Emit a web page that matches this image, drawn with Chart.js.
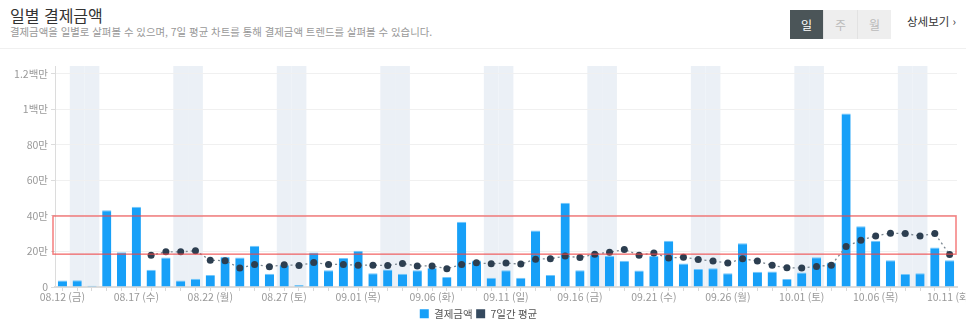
<!DOCTYPE html>
<html lang="ko">
<head>
<meta charset="utf-8">
<script src="https://cdn.jsdelivr.net/npm/chart.js@4.4.0/dist/chart.umd.min.js"></script>
<style>
  body { margin: 0; width: 966px; height: 329px; background: #fff; font-family: 'Noto Sans CJK KR', 'Noto Sans', sans-serif; position: relative; overflow: hidden; }
  .title { position: absolute; left: 10px; top: 3px; font-size: 16px; color: #333; }
  .sub { position: absolute; left: 10px; top: 24px; font-size: 10.4px; color: #999; }
  .tabs { position: absolute; left: 790px; top: 10px; display: flex; }
  .tabs div { width: 33px; height: 29px; line-height: 29px; text-align: center; font-size: 12px; background: #eee; color: #bbb; border-left: 1px solid #e2e2e2; }
  .tabs div.on { background: #4b5558; color: #fff; border-left: none; }
  .more { position: absolute; left: 907px; top: 13px; font-size: 11.5px; color: #333; }
  .sep { position: absolute; left: 0; top: 48px; width: 966px; height: 1px; background: #f0f0f0; }
  #wrap { position: absolute; left: 0; top: 50px; width: 966px; height: 279px; }
</style>
</head>
<body>
<div class="title">일별 결제금액</div>
<div class="sub">결제금액을 일별로 살펴볼 수 있으며, 7일 평균 차트를 통해 결제금액 트렌드를 살펴볼 수 있습니다.</div>
<div class="tabs"><div class="on">일</div><div>주</div><div>월</div></div>
<div class="more">상세보기 ›</div>
<div class="sep"></div>
<div id="wrap"><canvas id="payChart"></canvas></div>
<script>
const days = [
  "08.12 (금)", "08.13 (토)", "08.14 (일)", "08.15 (월)", "08.16 (화)", "08.17 (수)", "08.18 (목)",
  "08.19 (금)", "08.20 (토)", "08.21 (일)", "08.22 (월)", "08.23 (화)", "08.24 (수)", "08.25 (목)",
  "08.26 (금)", "08.27 (토)", "08.28 (일)", "08.29 (월)", "08.30 (화)", "08.31 (수)", "09.01 (목)",
  "09.02 (금)", "09.03 (토)", "09.04 (일)", "09.05 (월)", "09.06 (화)", "09.07 (수)", "09.08 (목)",
  "09.09 (금)", "09.10 (토)", "09.11 (일)", "09.12 (월)", "09.13 (화)", "09.14 (수)", "09.15 (목)",
  "09.16 (금)", "09.17 (토)", "09.18 (일)", "09.19 (월)", "09.20 (화)", "09.21 (수)", "09.22 (목)",
  "09.23 (금)", "09.24 (토)", "09.25 (일)", "09.26 (월)", "09.27 (화)", "09.28 (수)", "09.29 (목)",
  "09.30 (금)", "10.01 (토)", "10.02 (일)", "10.03 (월)", "10.04 (화)", "10.05 (수)", "10.06 (목)",
  "10.07 (금)", "10.08 (토)", "10.09 (일)", "10.10 (월)", "10.11 (화)"
];

const amounts = [
  37000, 38000, 7000, 432000, 196000, 452000, 97000,
  166000, 36000, 47000, 67000, 170000, 166000, 232000,
  75000, 125000, 11000, 194000, 95000, 163000, 204000,
  78000, 99000, 75000, 95000, 107000, 56000, 368000,
  149000, 52000, 95000, 52000, 318000, 67000, 475000,
  95000, 183000, 174000, 148000, 93000, 174000, 260000,
  133000, 101000, 105000, 78000, 247000, 86000, 88000,
  45000, 82000, 168000, 138000, 977000, 342000, 260000,
  151000, 73000, 77000, 223000, 151000
];

const avg7 = [
  null, null, null, null, null, null, 179000,
  198000, 198000, 204000, 151000, 148000, 107000, 127000,
  114000, 125000, 121000, 138000, 127000, 127000, 123000,
  123000, 121000, 133000, 118000, 119000, 103000, 127000,
  136000, 131000, 135000, 129000, 157000, 159000, 174000,
  166000, 185000, 196000, 211000, 179000, 192000, 163000,
  168000, 155000, 146000, 135000, 159000, 146000, 122000,
  108000, 107000, 116000, 123000, 228000, 264000, 288000,
  303000, 301000, 288000, 301000, 183000
];

const yTicks = [0, 200000, 400000, 600000, 800000, 1000000, 1200000];
const highlightRange = [185000, 400000];

const font = "'Noto Sans CJK KR', 'Noto Sans', sans-serif";

function fmtWon(v) {
  if (v === 0) return "0";
  if (v >= 1000000) return (v / 1000000) + "백만";
  return (v / 10000) + "만";
}

// weekend shading behind everything
const weekendBands = {
  id: "weekendBands",
  beforeDraw(chart) {
    const { ctx, chartArea, scales: { x } } = chart;
    const w = x.getPixelForValue(1) - x.getPixelForValue(0);
    ctx.save();
    ctx.fillStyle = "#ebf0f6";
    days.forEach((d, i) => {
      if (d.includes("(토)") || d.includes("(일)")) {
        const cx = x.getPixelForValue(i);
        ctx.fillRect(cx - w / 2, chartArea.top, w, chartArea.bottom - chartArea.top);
      }
    });
    ctx.restore();
  }
};

// red highlight box over the 7-day band
const highlightBox = {
  id: "highlightBox",
  afterDatasetsDraw(chart) {
    const { ctx, chartArea, scales: { y } } = chart;
    const top = y.getPixelForValue(highlightRange[1]);
    const bottom = y.getPixelForValue(highlightRange[0]);
    ctx.save();
    ctx.strokeStyle = "rgba(240, 70, 70, 0.7)";
    ctx.lineWidth = 1.5;
    ctx.strokeRect(chartArea.left - 2, top, chartArea.right - chartArea.left + 1, bottom - top);
    ctx.restore();
  }
};

const ctx = document.getElementById("payChart").getContext("2d");
new Chart(ctx, {
  type: "bar",
  data: {
    labels: days,
    datasets: [
      {
        label: "결제금액",
        data: amounts,
        backgroundColor: "#17a0f8",
        borderColor: "#74c7fb",
        borderWidth: { top: 1, right: 0, bottom: 0, left: 0 },
        borderSkipped: "bottom",
        barPercentage: 0.62,
        categoryPercentage: 1,
        order: 2
      },
      {
        type: "line",
        label: "7일간 평균",
        data: avg7,
        borderColor: "#7b8791",
        borderWidth: 1.3,
        borderDash: [2, 3],
        pointRadius: 3.5,
        pointBackgroundColor: "#2c3e50",
        pointBorderColor: "#2c3e50",
        pointBorderWidth: 0,
        tension: 0,
        fill: false,
        order: 1
      }
    ]
  },
  options: {
    responsive: true,
    maintainAspectRatio: false,
    animation: false,
    layout: { padding: { top: 16, right: 9, left: 0, bottom: 0 } },
    plugins: {
      legend: {
        position: "bottom",
        labels: {
          boxWidth: 9,
          boxHeight: 9,
          padding: 3.5,
          color: "#555",
          font: { family: font, size: 10.5 },
          generateLabels: chart => chart.data.datasets.map((ds, i) => ({
            text: ds.label,
            fillStyle: i === 0 ? "#17a0f8" : "#34495e",
            strokeStyle: i === 0 ? "#17a0f8" : "#34495e",
            lineWidth: 0,
            lineDash: [],
            hidden: false,
            datasetIndex: i,
            fontColor: "#555"
          }))
        }
      },
      tooltip: { enabled: false }
    },
    scales: {
      x: {
        offset: true,
        grid: { display: true, drawOnChartArea: false, offset: false, tickLength: 4, tickColor: "#d8d8d8" },
        border: { color: "#dcdcdc", width: 2 },
        ticks: {
          autoSkip: false,
          maxRotation: 0,
          padding: 0,
          color: "#999",
          font: { family: font, size: 10.5 },
          callback: (v, i) => (i % 5 === 0 ? days[i] : "")
        },
        afterFit: s => { s.height = 18; s.paddingLeft = 0; s.paddingRight = 0; }
      },
      y: {
        min: 0,
        max: 1245000,
        grid: { color: "#f0f0f0", lineWidth: 1, tickLength: 4, tickColor: "#dcdcdc" },
        border: { color: "#dcdcdc", width: 1 },
        ticks: {
          stepSize: 200000,
          padding: 3,
          color: "#999",
          font: { family: font, size: 10.5 },
          callback: v => fmtWon(v)
        },
        afterBuildTicks: s => { s.ticks = yTicks.map(v => ({ value: v })); },
        afterFit: s => { s.width = 55; s.paddingTop = 0; s.paddingBottom = 0; }
      }
    }
  },
  plugins: [weekendBands, highlightBox]
});
</script>
</body>
</html>
